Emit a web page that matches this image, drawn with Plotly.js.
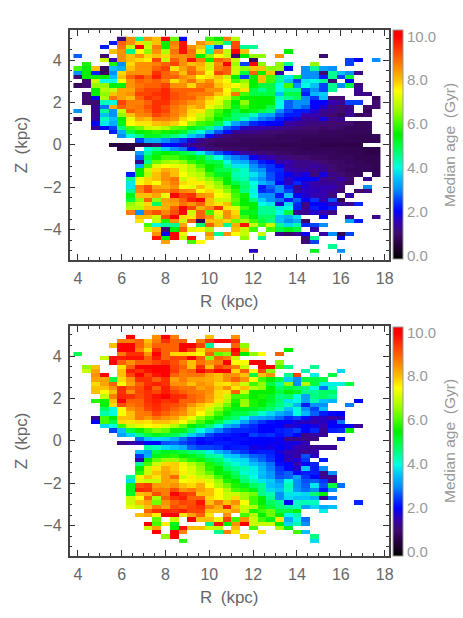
<!DOCTYPE html>
<html>
<head>
<meta charset="utf-8">
<script src="https://cdn.plot.ly/plotly-3.0.1.min.js"></script>
<style>body{margin:0;background:#fff}</style>
</head>
<body>
<div id="myDiv" style="width:463px;height:618px"></div>
<script>
var _ = null;
var rBins = [4.0,4.4,4.8,5.2,5.6,6.0,6.4,6.8,7.2,7.6,8.0,8.4,8.8,9.2,9.6,10.0,10.4,10.8,11.2,11.6,12.0,12.4,12.8,13.2,13.6,14.0,14.4,14.8,15.2,15.6,16.0,16.4,16.8,17.2,17.6];
var zBins = [5.0,4.8,4.6,4.4,4.2,4.0,3.8,3.6,3.4,3.2,3.0,2.8,2.6,2.4,2.2,2.0,1.8,1.6,1.4,1.2,1.0,0.8,0.6,0.4,0.2,0,-0.2,-0.4,-0.6,-0.8,-1.0,-1.2,-1.4,-1.6,-1.8,-2.0,-2.2,-2.4,-2.6,-2.8,-3.0,-3.2,-3.4,-3.6,-3.8,-4.0,-4.2,-4.4,-4.6,-4.8,-5.0];

// median age per bin, rows follow zBins, columns follow rBins
var ageTop = [
[_,_,_,_,_,1.2,8.5,4.5,8.5,8,10,6.3,2,_,_,6,5.5,8.7,6.8],
[_,_,_,_,2.2,9,8.5,7.8,6.8,8,5.5,8.7,9.8,_,8.5,8,6.5,4.5,9.2],
[_,_,_,2.2,_,8.8,7,10,7,8.7,5.5,8.5,9.8,8.5,8,4,2.5,_,9.2,4.5,4.5],
[_,_,_,_,8,8.5,4.5,7.5,6.5,8.5,6.8,8.8,9.8,8.8,7.6,4.5,8.5,7,10,8,_,_,_,_,5.5],
[2.7,_,_,1,_,8.5,8,8.5,7.8,8,7.8,8.5,8.5,8.7,5.5,6.5,7.5,7,1,5.5,6.5,6.5,_,8.5,_,_,_,_,1],
[_,_,_,7,1.5,8.5,8,7.8,7.6,9.3,7,9,8.5,9.8,8.7,5.5,9,8.7,7,_,0.8,_,_,_,_,_,_,_,_,_,_,2.5,2,_,3],
[_,5.7,_,_,5.7,3,7.8,8.5,8.5,8.7,9,9.3,8.5,8,8.2,7,8.5,10,6.6,2.5,10,6.5,_,6.5,4.5,_,_,6.5,_,_,_,2.5],
[6,5.5,8,0.8,3.5,3.3,8,8.5,8.5,9,9.3,7.7,8.3,8.8,8,7,8.7,9,7,6.5,8,8,6.5,6.5,2,_,3,4.5,3.2,3],
[3,5.5,2.2,0.8,3,7.8,8.5,8.5,8.5,9.5,9,8.7,8,9,8.5,7.5,9.3,9,7,5,9,5.5,8,1.5,_,_,3,3,1,4.5,3.5,3,1.2],
[1,5.5,5.5,5.5,3.5,8,9,9.5,9,9.7,9,9,8.5,8.3,7.5,7.7,8,7,5.5,2.5,5.5,8,6,4.5,3.8,5,3,3,2.2,4.5,2.5,5],
[_,1,7,4,4,7.5,8.5,9,8.8,9,8.7,7.7,8.3,8.8,8,8.5,7.8,7.5,6,6.5,5.5,8,6,4.5,3.5,2.5,3.8,4,4.5,1,_,2],
[0.8,1,6.5,6.5,5.5,5.5,8.5,8.8,9,9,9.3,8.5,8.5,7.8,8.7,8.8,8,7.7,7.5,7,5.5,5,5,4,6,3,4,3.5,2.5,4.5,3,5,1.2],
[_,_,5.5,6.8,7,8.3,8.3,9,9.3,9.3,9.6,9,9,9,9,8.5,8.5,7.5,6.5,7.7,5,4.5,5,4,4.5,4.5,2.5,3,2.5,4.5,_,_,1.3],
[_,1,5.5,6.5,8,8.3,8.5,9.3,9.3,9.5,9.6,9.2,9,8.8,8.7,8.7,8,7.6,8.8,6,5,5,5,3.5,5,5,2.2,3.4,3.6,_,_,_,1.2,1.2],
[_,1,2,6.8,8.8,8.3,8,9,9.5,9.3,9.6,9.2,9,9,8.5,8,7.3,7,6,5.5,5.5,5.5,5.5,4.2,4.5,4.8,3,2.4,3.5,1,1,_,_,_,0.8],
[_,1,1,4.2,4,9.3,8.7,8.7,9,9.5,9.5,9,8.8,8.5,8.3,7.7,7.2,6.3,5.5,6.5,5.5,5.5,5.5,4,2.7,3,3,2,2,1.5,1.3,2.5,2.5,_,1],
[_,_,1.3,2.8,8.2,9,8.7,8.8,9.2,9.5,9.2,8.8,8.5,8,8.3,7.3,6.8,6.3,5.3,6,5.5,5.5,5,4,2.7,3,2.7,2,1.7,1.2,1,1.2,_,1,1],
[3,_,1.2,4.5,3,7,9,8.7,9,9.5,9.3,8.7,8.5,7.8,7.7,6.5,6,5.5,5,5.5,5.3,5,4.7,3,2.5,2.2,2.2,1.7,1.3,1.2,1,1.3,_,0.8],
[_,_,1.2,3.5,3,6.5,8,8.6,8.7,9.3,9,8.7,8.3,7.7,7,6.5,5.8,5.3,4.7,4.7,4.2,3.3,3.2,2.6,2.2,2.2,1.5,1.5,1.2,1,0.8,1.3,0.8,1],
[0.7,_,1.3,4.2,3.5,5.5,7.3,8.2,8,8.7,8.7,8.5,7.8,7.5,6.8,6.2,5.5,5,4.7,4.2,3.5,2.9,2.7,2.2,1.9,1.7,1.3,1.3,1.8,1.2,1.3],
[_,_,2,3.8,3.3,5.3,7.5,7.7,7.7,8,8.1,7.9,7.5,6.5,6,5.8,5,4,3.2,2.8,2.3,2.1,2,2,1.4,1.3,1.2,1.1,1.1,1,1,1,0.8,0.8],
[_,_,1.3,2,2.5,4.6,6,6.3,7,7.1,6.8,6.2,6,5.3,5,4.5,3.6,2.7,2.4,1.6,1.5,1.5,1.4,1.3,1.2,1.1,1,1,0.9,1,0.9,0.8,0.8,0.8],
[_,_,_,_,2.2,3.3,5,5.5,5.6,5.8,5.6,5.5,5.2,4.5,4,3.3,2.6,2.1,1.3,1.2,1.2,1.1,1,1,0.9,0.9,0.9,0.9,0.8,0.8,0.8,0.8,0.8,0.8],
[_,_,_,_,_,3,4,4.6,5.3,5.2,4.9,4.6,4.2,3.5,3,2.1,1.4,1.1,0.9,0.9,0.9,0.9,0.9,0.8,0.8,0.8,0.8,0.8,0.8,0.8,0.8,0.7,0.7,0.7,0.8],
[_,_,_,_,_,_,_,2.5,3.3,3.4,3,2.7,2.4,1.7,1.3,1,0.9,0.9,0.9,0.8,0.8,0.8,0.8,0.8,0.8,0.8,0.7,0.7,0.7,0.7,0.7,0.7,0.7,0.7,0.7],
[_,_,_,_,0.5,0.5,0.6,0.6,0.7,1,2,2,1.6,1.2,1,0.9,0.8,0.8,0.8,0.8,0.8,0.7,0.7,0.7,0.7,0.7,0.7,0.7,0.6,0.6,0.6,0.6,0.6],
[_,_,_,_,_,0.5,0.5,_,4,4.4,3.6,3,2.8,2,1.5,1.1,1,0.9,0.9,0.9,0.8,0.8,0.8,0.8,0.8,0.8,0.7,0.7,0.7,0.7,0.7,0.7,0.7,0.6,0.6],
[_,_,_,_,_,_,_,3.2,4.4,5.2,5.5,5.3,5,4.8,3.9,3.1,2.6,2.2,1.7,1.4,1.2,1.1,1,0.9,0.9,0.8,0.8,0.8,0.8,0.8,0.7,0.7,0.7,0.6,0.6],
[_,_,_,_,_,_,_,2.7,5,5.6,6,6,5.7,5.5,5.2,4.6,4,3.3,2.9,2.7,1.9,1.6,1.5,1.2,1.1,1,1,0.9,0.9,0.8,0.8,0.8,0.7,0.7,0.7],
[_,_,_,_,_,_,_,1.3,4.5,6.2,6.6,6.8,6.5,5.9,5.6,5,5,4,3.4,3.3,2.7,2.2,1.9,1.4,1.5,1.2,1.2,1.1,1,0.9,0.9,0.8,0.8,0.7,0.7],
[_,_,_,_,_,_,_,3.3,6,7.2,7.5,7.3,7.2,6.8,6,5.5,5.2,4.5,3.8,3.8,3,2.6,2.4,2,1.4,1.2,1.2,1.4,1.2,1,0.9,0.9,0.8,0.8,0.7],
[_,_,_,_,_,_,_,5.5,7,7.8,8.2,8,7.2,6.8,6.4,5.5,5,4.9,4.5,4.2,3.2,3,2.4,2.3,1.5,1.4,1.3,1.2,1.3,1,0.9,0.8,0.8,0.8,0.7],
[_,_,_,_,_,_,2.2,5.5,6.8,8,8.5,8,7.5,7,6.8,6,5.2,5.3,4.3,4.2,3.8,3.3,2.6,2.2,1.9,1.6,1.8,1.1,1.8,1.2,1,0.9,0.8,_,0.8],
[_,_,_,_,_,_,4.5,7.3,7.8,8,8.5,8.8,7,7.6,7,6.5,6,5.5,4.5,4.3,3.5,3,2.6,2.2,1.6,2,2,2,1.3,1.1,1.5,1,_,1.3],
[_,_,_,_,_,_,3.8,7.5,7.8,7.5,8.3,8.7,7.8,7.6,7.6,7,6.5,5.5,5,4.6,4,3.4,3,2,1.6,2.3,1.7,1.4,1.3,1.3,1.1,0.9],
[_,_,_,_,_,_,3.8,8.7,9.2,8.3,8.2,8.5,7.5,7.3,8,7.2,6.7,6.2,5.5,4.8,4.2,2.2,2.7,3,2.2,1.2,1.7,1.5,1.5,1.5,1.2,_,_,3],
[_,_,_,_,_,_,4.5,8.6,9.3,8.7,8.7,9,8.6,8.5,7.5,7.8,7.2,6.5,5.8,4.6,3.9,2.3,2.5,3,2.5,1.4,1.6,1.6,1.5,1.3,1,_,1,1.2],
[_,_,_,_,_,_,5.3,8,8,8.3,7.3,10,9.3,9.5,8.5,8.3,7.5,7.2,6,5.6,4,3,3,2.2,3.5,2,1.7,1.5,1.5,1.1,_,1.5],
[_,_,_,_,_,_,5,6.5,9,6.5,8.3,8.5,9,9.7,10,8,7,7,6.2,5.5,4.6,3.6,3,2.8,2.2,2.7,2,2.4,1.5,2.6,0.7],
[_,_,_,_,_,_,6.5,7,7.8,4.8,8.2,8.3,8.8,8.5,9,8,7.7,8,6,5.5,5.5,4,3.8,1.7,3.7,2.3,1.2,2,1.9,1.6,1.4,1.2,2.3],
[_,_,_,_,_,_,6.8,6.8,8,8,8.2,9,10,9.3,8.2,8.6,9.5,7.7,7.2,6,5.5,4.5,4.5,3.8,4,2.2,1.3,2.2,2,2.2],
[_,_,_,_,_,_,8.7,3,8.8,9.2,8.6,9.2,10,7,9,6,7.6,8.5,7.8,5.3,5.3,4.5,4.5,4,5,1.3,1.3,1.7,1.5,1.2],
[_,_,_,_,_,_,_,8,8,7,9.2,10,7.8,7.7,9,8.5,7,8.5,8,6,5.5,4.8,4.8,3.5,3.3,3.7,_,_,2,_,_,1.3,_,_,1.2],
[_,_,_,_,_,_,_,7.7,_,7,5.7,8.5,7,9,0.8,8,8,7.8,6.3,6.7,6,5,4.6,3.5,3,3.3,0.9,_,_,_,_,3.2,2.2],
[_,_,_,_,_,_,_,_,6,4,4.5,4.5,8.3,_,4.7,9,8,4.5,8.2,9.8,7,6,7,4.5,3.7,4.3,2.3,2.5,3],
[_,_,_,_,_,_,_,_,7,8,1,5.5,9,7.3,7.5,6.8,_,_,8,7,6,_,6,5,5.3,5,_,1.5],
[_,_,_,_,_,_,_,_,_,8.5,2,10,7.3,_,_,8.5,4.5,8.5,7.5,7,_,7,_,1.2,0.9,1.3,2,_,1.4,3,0.7,2.5],
[_,_,_,_,_,_,_,_,_,9.8,5.5,10,7,9.8,_,8,_,_,_,6.5,_,4.5,_,_,_,_,1,4.5,_,_,2],
[_,_,_,_,_,_,_,_,_,_,8.3,_,_,6,7.5,_,_,_,_,_,_,_,_,_,_,_,1.1,2.5],
[_,_,_,_,_,_,_,_,_,_,_,_,_,_,_,_,_,_,_,_,_,_,_,_,_,_,_,_,_,4.5],
[_,_,_,_,_,_,_,_,_,_,_,_,_,_,_,_,_,_,_,_,1.6,_,_,_,_,_,_,5.3,_,_,3]
];

var ageBottom = [
[_,_,_,_,_,_,10,_,_,8.5,10,8.7,_,_,_,8,_,_,8.5],
[_,_,_,_,_,8.7,8.7,9,8,8.7,9.5,9,9,_,8.7,9.5,10,10,9.5],
[_,_,_,_,8,10,10,9,8.3,9,9,9,10,10,9.3,4.5,_,_,9,6.5],
[_,_,_,_,_,10,10,8.7,7.8,9.5,9,9,10,9.3,7.8,8.5,8.5,8.5,10,8,_,_,_,_,5.5],
[4.9,_,_,_,_,8.8,9.5,9.5,8.5,10,9,7.8,7.8,7.7,7.5,9,6.2,6.5,9.7,5.5,6.5,7.5,_,9],
[_,_,_,7,9.8,9.7,9.8,9.8,9,9.7,9,9.3,9.3,10,9,6.5,9,8.7,7],
[_,_,_,_,10,9,8.5,9,9,9.3,9.5,9.2,8.7,8,8.8,8.5,8.7,10,7.5,7.5,10,10,_,6.5],
[_,6.5,8,_,_,7.7,9,10,10,10,10,9.3,9,8,9.5,8,9.3,9,8.7,7,_,10,10,6,4.5,_,_,4.5],
[_,7,8.3,_,_,8,9.7,9.5,9.8,10,10,9.4,8.8,9,10,9.5,10,10,7.8,9,7.5,9.3,6.5,_,_,_,4.3,_,_,_,3.7],
[_,_,8.5,10,_,8,9.3,10,9.3,9.8,10,9,8.7,8.8,8.8,8.3,8,8.5,8.5,8,5,8,8.5,_,4.5,9.3,_,3.9,_,5],
[_,_,8.3,8.3,5,7.8,8.5,9.5,9.5,9,9.5,8.3,8.7,8.3,8.3,8.2,8,8.5,9,8.5,7.5,6,5.5,5,3.6,3,5,5,5],
[_,_,7.8,8.3,9,7.5,8.3,9,9.5,9.7,9.5,8.5,8.5,8,8.5,8.3,7.8,7.7,8,7,6,6.5,5,4.3,6.5,3,6.8,5,3.9,3.9,3.9,5],
[_,_,8,8,8.5,9.5,9,9.2,9.7,9,9.7,9,8.8,8.8,8.3,8.5,8,8.5,7.7,8,6.8,6.5,5.5,4.7,5,4.8,4.6,4,2.8,4.2],
[_,_,8,7.5,8,9.5,8.5,9.3,9.5,9.3,9.7,9.3,9,8.8,8.7,8.5,7.8,7.7,9,7,5.5,5.5,5.5,5,5.5,5.3,4.5,4.5,4.8,4.8],
[_,_,_,7,8.7,9.6,9.5,9.2,9.5,9.8,10,9.6,9.5,9,8.8,8.4,7.8,7,6,6,5.5,5.7,5.2,4.6,4.8,4,3.2,4.6,4.8,4.5],
[_,_,5.8,5.6,8,10,9,9,9.5,9.7,9.5,9.6,9,9,8.7,8.3,7.7,6.8,5.7,6.5,5.7,5.5,5.2,4.7,3.8,4,3.2,4.3,3.5,3.4,_,_,2],
[_,_,_,5.5,7.8,9.2,8.8,9,9.4,9.6,9.3,9.2,9,8.5,8,7.7,7,6.3,5.5,6.6,5.7,5.5,5,4.6,4.3,3.4,2.2,3,3,_,_,2.9],
[_,_,_,4.8,4,7.5,8.5,8.8,9.3,9.5,9.3,9,8.7,8,7.8,7,6.5,5.8,5.3,5.3,5.2,5,4.7,4.3,3.5,4,3,2.5,3.5],
[_,_,_,4.3,4,7.5,8,8.7,8.8,9.3,9,8.7,8.5,8,7.5,6.8,6,5.4,5,5,4.6,4.1,3.7,3.3,3,4,3.4,2.7,2.2,2,2],
[_,_,1.3,6,5.5,8,8,8.7,8.4,8.8,8.5,8.3,7.8,7.3,6.5,6,5.5,5,4.7,3.9,3.3,3.2,3,2.7,2.3,2.5,2.1,1.6,1.6,1.4,1.6],
[_,_,2,6,5,7.8,7.7,7.8,7.7,8,8,7.8,7.5,6.7,6,5.5,5,4.3,3.8,3.2,2.7,2.4,2.1,2,2,1.7,1.6,1.5,1.6,1.9,2.8],
[_,_,_,3.7,4,6,7,7.2,7.5,7.6,7.2,6.8,6.2,5.5,5.2,4.7,4,3.3,3,2.5,2.3,2,2,2,1.6,1.8,2,1.8,1.5,2,2,2,1.4],
[_,_,_,_,2.5,3.5,5,5.6,6,6.4,6.2,5.6,5.3,4.7,4,3.5,2.9,2.5,2.3,2.3,2.2,2,2,2.2,2.3,2.5,2,2.3,1.3,2.2,2.3,5.5],
[_,_,_,_,_,3.2,3.7,4.5,5,5.3,5.1,4.9,4.4,3.6,3.1,2.5,2.2,2.2,2.1,2,2.5,2.3,2.4,2.1,2.3,2,1.2,1.4,1.3],
[_,_,_,_,_,_,_,2.8,3.5,3.7,3.6,3.3,2.8,2.4,2.1,2.2,2.1,2,2.1,2.1,2,2,2,1.9,1.2,1.2,1.2,1.2,_,_,2.1],
[_,_,_,_,_,1.2,1.4,1.6,2,2,2.6,2.7,2.5,2.3,2,2.1,2.2,2.2,2.1,2,2,2,1.9,1.9,1.8,1.8,1.5],
[_,_,_,_,_,_,_,_,4.4,4.2,3.7,3.5,3.3,2.7,2.5,2.5,2.4,2.1,2.2,2.2,1.8,1.9,1.8,2,1.8,1.5,1.4,1.3,1.3,1.3],
[_,_,_,_,_,_,_,3.5,3.2,5,5.3,5.2,5,4.7,4.5,3.9,3.4,3,2.6,2.4,2.1,2.2,2.2,1.8,1.5,1.5,1.2,1.5],
[_,_,_,_,_,_,_,2.4,3.3,5.3,5.7,5.8,5.5,5.3,5,4.5,4.3,3.6,3.5,3,2.7,2.6,2.3,2,1.6,1.4,2.6,1.6],
[_,_,_,_,_,_,_,1.5,5.5,6.2,6.6,6.6,6.2,5.8,5.6,5,4.7,4.1,3.8,3.7,3,2.7,2.4,2,1.5,1.8,2.4,_,2.2],
[_,_,_,_,_,_,_,4.5,6,7,7.8,7.9,7.3,6.8,6.3,5.7,5,4.5,4.1,3.8,3.5,3.2,2.8,2.1,2,1.5,2,2.3],
[_,_,_,_,_,_,_,5.5,7,7.7,8.2,7.9,7.4,7.1,6.5,5.8,5.5,4.8,4.5,4.3,3.9,3.4,2.9,2.4,2,1.7,3.5,2.2,3],
[_,_,_,_,_,_,_,5.8,7,8,8.3,8,7.6,7.1,6.7,6.2,5.5,5.3,4.8,4.1,3.9,3.5,3.1,2.5,2.7,2,2.2,2.2,1.2,3],
[_,_,_,_,_,_,4.5,7.3,8,7.7,8.3,8.9,7,7.6,7,6.8,6,5.5,5,4.5,4,3.4,3.1,2.6,2.7,3.2,2.4,2,1.3,1.2],
[_,_,_,_,_,_,3.7,7.2,7,7,8.3,8.2,7.5,7.6,7.7,7.2,6.6,5.7,5.5,4.7,4.3,3.8,3.6,3,4,3,2.6,2.7,2.4,1.3],
[_,_,_,_,_,_,5.3,9.2,9.4,8.4,8.3,8.5,8,7.8,8.2,7.5,6.8,6.3,5.7,5.3,4.8,4.5,3.5,3.3,4.3,3,2.7,3.8,2.6,5,2.8],
[_,_,_,_,_,_,5.3,9.6,9.5,8.7,8.7,9.2,8.5,8.7,8.3,8,7.5,6.8,6,5.8,5.3,4.6,3.7,3.5,4.2,3.1,2.8,3,2.2,3],
[_,_,_,_,_,_,5.2,8,8.2,9.2,8.7,10,9.5,9.3,8,8,7.5,7,7,6.6,6.3,4.6,4.3,3,3.8,3.8,3.7,4.7,5.5],
[_,_,_,_,_,_,7,7.5,9,6.7,9,9.5,9.7,9,9,7.8,7.5,7,7.8,6.6,6,5.5,4.5,3,3.7,3.5,3.5,3.3,1.3,2.8],
[_,_,_,_,_,_,7,8,8.3,6.3,8.5,9,9.3,9.2,9.8,8,8.7,8,8.5,7.5,6,5.5,4.8,4.5,2,4.2,4.3,4.2,_,_,_,_,2.3],
[_,_,_,_,_,_,7.3,7,8,8.7,8.3,9.2,9,9.3,9.5,8.7,8.2,9.7,8,7,6.8,5.7,5,4.6,4.4,4.2,3.2,3.7,3.3,3.5],
[_,_,_,_,_,_,_,_,9,9.5,9.6,9.5,9.7,9.3,9.3,8,8,8,8.3,7,5.7,6,6.3,5,5,5.5,_,_,3.9],
[_,_,_,_,_,_,_,8,8.3,7.6,10,10,7.7,8.3,9,7.7,_,8.5,_,6,6.8,5.5,6.3,5.5,4,4.3],
[_,_,_,_,_,_,_,_,_,6.2,_,7,_,10,8,8,7.3,9.3,6,8.5,7,6,5.3,7.7,3.3,4,2.8],
[_,_,_,_,_,_,_,_,10,6,7.6,5.3,_,_,_,4.6,9.8,5.5,8.5,10,7,7,7,5.5,3.7,4.3,3],
[_,_,_,_,_,_,_,_,7,8.3,_,5.5,9.8,8,8,7,7,_,8,_,6,_,_,6.7,5.3],
[_,_,_,_,_,_,_,_,_,10,_,10,8.6,_,_,_,4.5,8.7,7.7,_,_,7.7,_,_,_,6,3.5],
[_,_,_,_,_,_,_,_,_,_,6.5,10,_,_,_,_,_,_,_,7.8,_,_,_,_,_,_,_,4.6],
[_,_,_,_,_,_,_,_,_,_,_,_,5.8,_,_,_,_,_,_,_,_,_,_,_,_,_,_,3.7]
];

var barTicks = [0, 2, 4, 6, 8, 10];
var barLabels = ["0.0", "2.0", "4.0", "6.0", "8.0", "10.0"];
var ageStops = [-0.18, 0.5, 1, 1.5, 2, 2.5, 3, 3.5, 4, 4.5, 5, 5.5, 6, 6.5, 7, 7.5, 8, 8.5, 9, 9.5, 10, 10.27];
var ageColors = ["#000000","#280040","#400a70","#3400b0","#0000ff","#0040ff","#0090ff","#00c0ff","#00ffe0","#00ff90","#00ff40","#00f000","#40ff00","#90ff00","#c8ff00","#ffff00","#ffc000","#ff9000","#ff6000","#ff3000","#ff0000","#ff0000"];

var W = 463, H = 618;
var textFont = "Liberation Sans";
var zMin = ageStops[0], zMax = ageStops[ageStops.length - 1];
var scale = ageStops.map(function (s, i) {
  return [(s - zMin) / (zMax - zMin), ageColors[i]];
});

function padRows(rows) {
  return rows.map(function (r) {
    var out = r.slice();
    while (out.length < rBins.length) out.push(null);
    return out;
  });
}

function makeHeat(rows, xa, ya, top, bottom) {
  return {
    type: "heatmap", x: rBins, y: zBins, z: padRows(rows),
    xaxis: xa, yaxis: ya, colorscale: scale, zmin: zMin, zmax: zMax,
    hoverongaps: false,
    colorbar: {
      x: 393 / W, xanchor: "left", xpad: 0,
      y: 1 - top / H, yanchor: "top", ypad: 0,
      len: (bottom - top) / H, lenmode: "fraction",
      thickness: 10, thicknessmode: "pixels",
      outlinewidth: 1, outlinecolor: "#999",
      ticks: "", tickvals: barTicks, ticktext: barLabels,
      tickfont: {family: textFont, size: 15, color: "#999"}
    }
  };
}

function axis(extra) {
  var a = {
    ticks: "inside", ticklen: 6, tickwidth: 1, tickcolor: "#333",
    minor: {dtick: 0.5, ticks: "inside", ticklen: 3, tickwidth: 1, tickcolor: "#333"},
    showgrid: false, zeroline: false, showline: true, linecolor: "#444", linewidth: 1.5,
    mirror: "allticks", tickfont: {family: textFont, size: 16, color: "#666"},
    ticklabelstandoff: 3
  };
  for (var k in extra) a[k] = extra[k];
  return a;
}

var data = [
  makeHeat(ageTop, "x", "y", 30.5, 259.5),
  makeHeat(ageBottom, "x2", "y2", 326.5, 555.5)
];

var xRange = [3.62, 18.2];
var xDomain = [69.5 / W, 389 / W];
var xTicks = [4, 6, 8, 10, 12, 14, 16, 18];
var yTicks = [-4, -2, 0, 2, 4];
var rTitle = {text: "R\u2002(kpc)", font: {family: textFont, size: 17, color: "#666"}, standoff: 9};
var zTitle = {text: "Z\u2002(kpc)", font: {family: textFont, size: 17, color: "#666"}, standoff: 11};

function barTitle(yMid) {
  return {
    text: "Median age\u2002(Gyr)", textangle: -90, showarrow: false,
    xref: "paper", yref: "paper", x: 449 / W, y: 1 - yMid / H,
    xanchor: "center", yanchor: "middle",
    font: {family: textFont, size: 15.5, color: "#999"}
  };
}

var layout = {
  width: W, height: H, margin: {l: 0, r: 0, t: 0, b: 0, autoexpand: false},
  paper_bgcolor: "#fff", plot_bgcolor: "#fff", showlegend: false,
  xaxis: axis({domain: xDomain, range: xRange, anchor: "y", tickvals: xTicks, title: rTitle}),
  yaxis: axis({domain: [1 - 260 / H, 1 - 30 / H], range: [-5.43, 5.42], anchor: "x", tickvals: yTicks, title: zTitle}),
  xaxis2: axis({domain: xDomain, range: xRange, anchor: "y2", tickvals: xTicks, title: rTitle}),
  yaxis2: axis({domain: [1 - 556 / H, 1 - 326 / H], range: [-5.43, 5.42], anchor: "x2", tickvals: yTicks, title: zTitle}),
  annotations: [barTitle(145), barTitle(441)]
};

Plotly.newPlot("myDiv", data, layout, {displayModeBar: false});
</script>
</body>
</html>
